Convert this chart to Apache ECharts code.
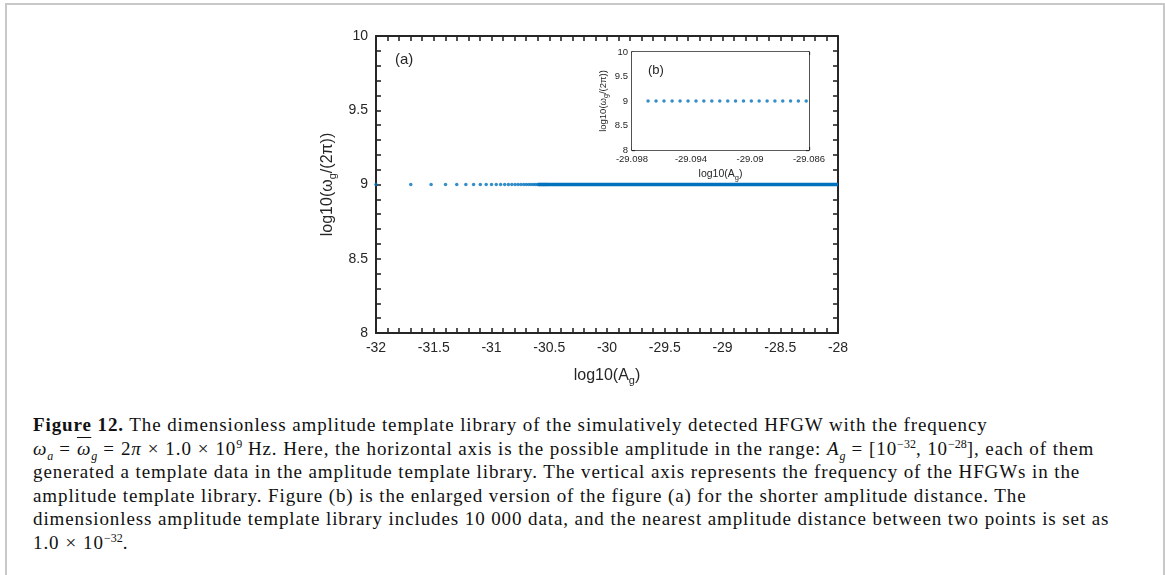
<!DOCTYPE html>
<html>
<head>
<meta charset="utf-8">
<script src="https://cdn.jsdelivr.net/npm/echarts@6/dist/echarts.min.js"></script>
<style>
  html, body { margin: 0; padding: 0; background: #fff; }
  #frame {
    position: absolute; left: 5px; top: 3px; width: 1156px; height: 600px;
    border: 2px solid #c8c8c8; border-bottom: none;
  }
  #container { position: absolute; left: 0; top: 0; width: 1165px; height: 400px; }
  #caption {
    position: absolute; left: 33px; top: 413px;
    font-family: 'Liberation Serif', 'DejaVu Serif', serif;
    font-size: 19px; line-height: 23.5px; letter-spacing: 0.9px; color: #111; white-space: nowrap;
  }
  #caption sub, #caption sup { font-size: 12px; line-height: 0; letter-spacing: 0; }
  #caption i { font-style: italic; }
  #caption .bar { text-decoration: overline; }
  #caption .op { padding: 0 6px; }
</style>
</head>
<body>
<div id="frame"></div>
<div id="container"></div>
<div id="caption">
<b>Figure 12.</b> The dimensionless amplitude template library of the simulatively detected HFGW with the frequency<br>
<i>ω<sub>a</sub></i><span class="op">=</span><i><span class="bar">ω</span><sub>g</sub></i><span class="op">=</span>2<i>π</i><span class="op">×</span>1.0<span class="op">×</span>10<sup>9</sup> Hz. Here, the horizontal axis is the possible amplitude in the range: <i>A<sub>g</sub></i><span class="op">=</span>[10<sup>−32</sup>, 10<sup>−28</sup>], each of them<br>
generated a template data in the amplitude template library. The vertical axis represents the frequency of the HFGWs in the<br>
amplitude template library. Figure (b) is the enlarged version of the figure (a) for the shorter amplitude distance. The<br>
dimensionless amplitude template library includes 10 000 data, and the nearest amplitude distance between two points is set as<br>
1.0<span class="op">×</span>10<sup>−32</sup>.
</div>
<script>
// frequency of every template point: log10(omega_g / 2pi)
var freqLog = 9;

// main plot (a): separated points on the left
var mainSparseX = [
    -32, -31.699, -31.523, -31.398, -31.301, -31.222, -31.155, -31.097, -31.046, -31,
    -30.959, -30.921, -30.886, -30.854, -30.824, -30.796, -30.770, -30.745, -30.721, -30.699,
    -30.678, -30.658, -30.638, -30.620, -30.602, -30.585, -30.569, -30.553, -30.538, -30.523
];
// beyond this the points merge into a solid band up to the right edge
var mainDenseX = [-30.6, -28];

// inset (b): zoomed points
var insetX = [
    -29.09691, -29.09637, -29.09583, -29.09528, -29.09474, -29.09420, -29.09366,
    -29.09313, -29.09259, -29.09205, -29.09151, -29.09098, -29.09044, -29.08991,
    -29.08938, -29.08884, -29.08831, -29.08778, -29.08725, -29.08672, -29.08619
];

var mainXRange = [-32, -28];
var mainYRange = [8, 10];
var insetXRange = [-29.098, -29.086];
var insetYRange = [8, 10];

document.addEventListener('DOMContentLoaded', function () {
    var dom = document.getElementById('container');
    var myChart = echarts.init(dom, null, { renderer: 'canvas' });

    var ink = '#262626';
    var blue = '#0072BD';
    var font = "'Liberation Sans', Arial, sans-serif";

    function axisBase(o) {
        var w = o.lw, len = o.len;
        return {
            type: 'value',
            gridIndex: o.grid,
            position: o.pos,
            min: o.range[0],
            max: o.range[1],
            interval: o.interval,
            axisLine: { show: true, onZero: false, lineStyle: { color: ink, width: w } },
            axisTick: { show: true, inside: true, length: len, lineStyle: { color: ink, width: w * 0.8 } },
            minorTick: { show: true, splitNumber: o.minor, length: len, lineStyle: { color: ink, width: w * 0.8 } },
            splitLine: { show: false },
            axisLabel: o.labels ? {
                show: true, color: ink, fontFamily: font, fontSize: o.fs, margin: o.margin,
                formatter: o.fmt
            } : { show: false }
        };
    }

    var insetFmt = function (v) { return String(Number(v.toFixed(3))); };

    var xAxes = [
        Object.assign(axisBase({ grid: 0, pos: 'bottom', range: mainXRange, interval: 0.5, minor: 5, lw: 2, len: 5, labels: true, fs: 14, margin: 8 }), {
            name: 'log10(A{s|g})', nameLocation: 'middle', nameGap: 32,
            nameTextStyle: { color: ink, fontFamily: font, fontSize: 16, rich: { s: { fontSize: 11, fontFamily: font, color: ink, padding: [10, 0, 0, 0] } } }
        }),
        axisBase({ grid: 0, pos: 'top', range: mainXRange, interval: 0.5, minor: 5, lw: 2, len: 5, labels: false }),
        Object.assign(axisBase({ grid: 1, pos: 'bottom', range: insetXRange, interval: 0.004, minor: 8, lw: 1.6, len: 3, labels: true, fs: 9.5, margin: 4, fmt: insetFmt }), {
            name: 'log10(A{s|g})', nameLocation: 'middle', nameGap: 17,
            nameTextStyle: { color: ink, fontFamily: font, fontSize: 10.5, rich: { s: { fontSize: 7.5, fontFamily: font, color: ink, padding: [7, 0, 0, 0] } } }
        }),
        axisBase({ grid: 1, pos: 'top', range: insetXRange, interval: 0.004, minor: 8, lw: 1.6, len: 3, labels: false })
    ];

    var yAxes = [
        Object.assign(axisBase({ grid: 0, pos: 'left', range: mainYRange, interval: 0.5, minor: 5, lw: 2, len: 5, labels: true, fs: 14, margin: 8 }), {
            name: 'log10(ω{s|g}/(2π))', nameLocation: 'middle', nameGap: 38, nameRotate: 90,
            nameTextStyle: { color: ink, fontFamily: font, fontSize: 16, rich: { s: { fontSize: 11, fontFamily: font, color: ink, padding: [10, 0, 0, 0] } } }
        }),
        axisBase({ grid: 0, pos: 'right', range: mainYRange, interval: 0.5, minor: 5, lw: 2, len: 5, labels: false }),
        Object.assign(axisBase({ grid: 1, pos: 'left', range: insetYRange, interval: 0.5, minor: 5, lw: 1.6, len: 3, labels: true, fs: 9.5, margin: 4 }), {
            name: 'log10(ω{s|g}/(2π))', nameLocation: 'middle', nameGap: 22, nameRotate: 90,
            nameTextStyle: { color: ink, fontFamily: font, fontSize: 9.5, rich: { s: { fontSize: 7, fontFamily: font, color: ink, padding: [6, 0, 0, 0] } } }
        }),
        axisBase({ grid: 1, pos: 'right', range: insetYRange, interval: 0.5, minor: 5, lw: 1.6, len: 3, labels: false })
    ];

    var option = {
        animation: false,
        title: [
            { text: '(a)', left: 390, top: 47, textStyle: { fontFamily: font, fontSize: 15, fontWeight: 'normal', color: ink } },
            { text: '(b)', left: 643, top: 59, textStyle: { fontFamily: font, fontSize: 13, fontWeight: 'normal', color: ink } }
        ],
        grid: [
            { left: 376, top: 36, width: 462, height: 297, containLabel: false },
            { left: 632, top: 52, width: 177, height: 98, containLabel: false, show: true, backgroundColor: '#fff', borderWidth: 0, z: 5 }
        ],
        xAxis: xAxes,
        yAxis: yAxes,
        series: [
            {
                type: 'scatter', xAxisIndex: 0, yAxisIndex: 0, clip: false,
                symbolSize: 3.5, itemStyle: { color: blue },
                data: mainSparseX.map(function (x) { return [x, freqLog]; }),
                z: 3
            },
            {
                type: 'line', xAxisIndex: 0, yAxisIndex: 0,
                symbol: 'none', lineStyle: { color: blue, width: 3.5 },
                data: mainDenseX.map(function (x) { return [x, freqLog]; }),
                z: 3
            },
            {
                type: 'scatter', xAxisIndex: 2, yAxisIndex: 2,
                symbolSize: 3.5, itemStyle: { color: blue },
                data: insetX.map(function (x) { return [x, freqLog]; }),
                z: 6
            }
        ]
    };

    myChart.setOption(option);
    window.addEventListener('resize', myChart.resize);
});
</script>
</body>
</html>
